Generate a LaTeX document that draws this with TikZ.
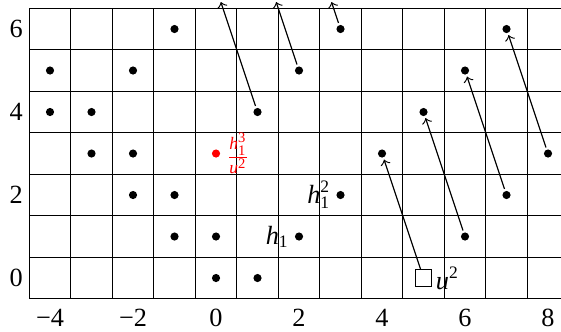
\documentclass[tikz,border=0pt]{standalone}
\usepackage{amsmath}
\usepackage{fontspec}
\setmainfont{Liberation Serif}
\usetikzlibrary{positioning}

\begin{document}
\begin{tikzpicture}[
  x=5mm, y=5mm,
  font=\small,
  dot/.style={circle, fill, inner sep=0pt, minimum size=2.8pt, outer sep=0.8pt},
  lab/.style={inner sep=1pt},
  diff/.style={->, thin}
]
\useasboundingbox (-5.205,-1.277) rectangle (8.313,6.699);
\clip (-5.205,-1.277) rectangle (8.313,6.699);
\draw[thin, step=5mm, shift={(0.5,0.5)}] (-5,-1) grid (8,6);

\foreach \x/\t in {-4/−4,-2/−2,0/0,2/2,4/4,6/6,8/8}
  \node[below] (xl\x) at (\x,-0.5) {\t};
\foreach \y in {0,2,4,6}
  \node[left, inner sep=2pt] (yl\y) at (-4.5,\y) {\y};

\foreach \x/\y in {-1/6,3/6,7/6,-4/5,-2/5,2/5,6/5,-4/4,-3/4,1/4,5/4,
    -3/3,-2/3,4/3,8/3,-2/2,-1/2,3/2,7/2,-1/1,0/1,2/1,6/1,0/0,1/0}
  \node[dot] (d\x\y) at (\x,\y) {};

\node[dot, red] (d03) at (0,3) {};
\node[lab, red, right=0pt of d03] (h3u2)
  {$\frac{\textit{h}_{\text{1}}^{\text{3}}}{\textit{u}^{\text{2}}}$};
\node[lab, left=0pt of d32] (h12) {$\textit{h}_{\text{1}}^{\text{2}}$};
\node[lab, left=0pt of d21] (h1) {$\textit{h}_{\text{1}}$};
\node[draw, thin, inner sep=0pt, minimum size=2mm] (sq) at (5,0) {};
\node[lab, right=0pt of sq] (u2) {$\textit{u}^{\text{2}}$};

\coordinate (t0) at (0.117,6.65);
\coordinate (t1) at (1.45,6.65);
\coordinate (t2) at (2.783,6.65);

\draw[diff] (sq) -- (d43);
\draw[diff] (d61) -- (d54);
\draw[diff] (d72) -- (d65);
\draw[diff] (d83) -- (d76);
\draw[diff] (d14) -- (t0);
\draw[diff] (d25) -- (t1);
\draw[diff] (d36) -- (t2);
\end{tikzpicture}
\end{document}
